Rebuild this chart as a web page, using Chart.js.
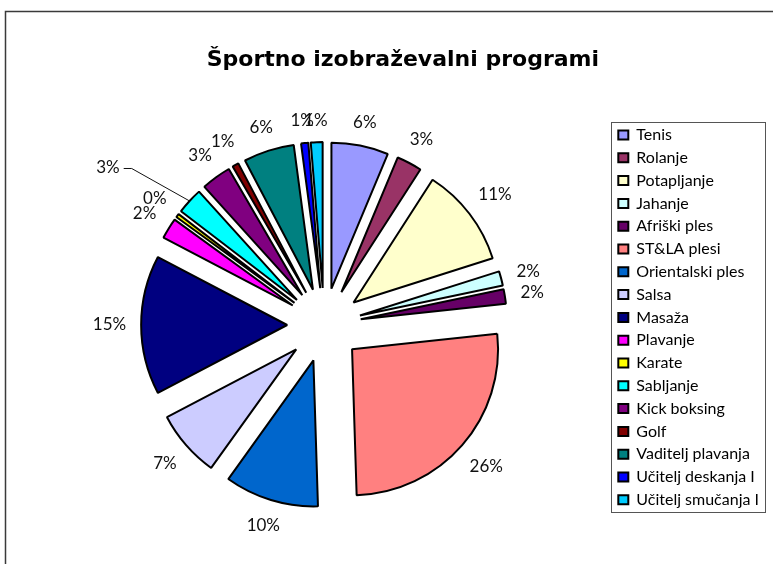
<!DOCTYPE html>
<html>
<head>
<meta charset="utf-8">
<script src="https://cdn.jsdelivr.net/npm/chart.js@4.4.1/dist/chart.umd.min.js"></script>
<style>
html,body{margin:0;padding:0;background:#fff;}
#wrap{position:relative;width:773px;height:564px;}
</style>
</head>
<body>
<div id="wrap"><canvas id="c" width="773" height="564"></canvas></div>
<script>
// ---- data ----
const titleText = 'Športno izobraževalni programi';
const categories = ['Tenis','Rolanje','Potapljanje','Jahanje','Afriški ples','ST&LA plesi','Orientalski ples','Salsa','Masaža','Plavanje','Karate','Sabljanje','Kick boksing','Golf','Vaditelj plavanja','Učitelj deskanja I','Učitelj smučanja I'];
const values = [6.3, 2.8, 11.0, 1.6, 1.6, 26.2, 10.4, 7.4, 15.4, 2.3, 0.4, 2.9, 3.3, 0.7, 5.6, 0.8, 1.3];
const colors = ['#9999FF','#993366','#FFFFCC','#CCFFFF','#660066','#FF8080','#0066CC','#CCCCFF','#000080','#FF00FF','#FFFF00','#00FFFF','#800080','#800000','#008080','#0000FF','#00CCFF'];

// ---- styling ----
const RADIUS = 146;     // pie radius
const EXPLODE = 37;     // explode distance of every slice
const LABEL_GAP = 15;   // gap between exploded rim and label
// manual label displacement (the label dragged away in the original, with leader line)
const labelNudge = { 'Sabljanje': [-61, -14] };

const total = values.reduce((a, b) => a + b, 0);

const explodePlugin = {
  id: 'explode',
  afterDatasetUpdate(chart, args) {
    const ca = chart.chartArea;
    const cx = (ca.left + ca.right) / 2, cy = (ca.top + ca.bottom) / 2;
    args.meta.data.forEach(el => {
      const mid = (el.startAngle + el.endAngle) / 2;
      el.x = cx + Math.cos(mid) * EXPLODE;
      el.y = cy + Math.sin(mid) * EXPLODE;
    });
  }
};

const decorPlugin = {
  id: 'decor',
  afterDraw(chart) {
    const ctx = chart.ctx;
    const ca = chart.chartArea;
    const cx = (ca.left + ca.right) / 2, cy = (ca.top + ca.bottom) / 2;
    ctx.save();
    // outer frame
    ctx.strokeStyle = '#3a3a3a';
    ctx.lineWidth = 1.5;
    ctx.strokeRect(5.5, 11.5, 900, 700);
    // legend frame
    const hb = chart.legend.legendHitBoxes;
    if (hb && hb.length) {
      let right = 0;
      hb.forEach(h => { right = Math.max(right, h.left + h.width); });
      const first = hb[0], last = hb[hb.length - 1];
      const x0 = Math.round(first.left - 7) + 0.5;
      const y0 = Math.round(first.top - 5) + 0.5;
      const x1 = Math.round(right + 6) + 0.5;
      const y1 = Math.round(last.top + last.height + 4) + 0.5;
      ctx.strokeStyle = '#555';
      ctx.lineWidth = 1;
      ctx.strokeRect(x0, y0, x1 - x0, y1 - y0);
    }
    // percentage labels
    const meta = chart.getDatasetMeta(0);
    ctx.font = '17px Lato';
    ctx.textAlign = 'center';
    ctx.textBaseline = 'middle';
    ctx.fillStyle = '#111';
    ctx.strokeStyle = '#111';
    ctx.lineWidth = 1;
    const baseR = RADIUS + EXPLODE + LABEL_GAP;
    meta.data.forEach((el, i) => {
      const mid = (el.startAngle + el.endAngle) / 2;
      const dx = Math.cos(mid), dy = Math.sin(mid);
      const txt = Math.round(values[i] / total * 100) + '%';
      const w = ctx.measureText(txt).width, h = 13;
      const d = baseR + (w / 2) * Math.abs(dx) + (h / 2) * Math.abs(dy);
      let x = cx + dx * d, y = cy + dy * d;
      const n = labelNudge[categories[i]];
      if (n) {
        x += n[0]; y += n[1];
        const rim = RADIUS + EXPLODE;
        ctx.beginPath();
        ctx.moveTo(x + w / 2 + 4, y + 0.5);
        ctx.lineTo(x + w / 2 + 12, y + 0.5);
        ctx.lineTo(cx + dx * rim, cy + dy * rim);
        ctx.stroke();
      }
      ctx.fillText(txt, x, y);
    });
    ctx.restore();
  }
};

new Chart(document.getElementById('c'), {
  type: 'pie',
  data: {
    labels: categories,
    datasets: [{
      data: values,
      backgroundColor: colors,
      borderColor: '#000',
      borderWidth: 2,
      radius: RADIUS,
      offset: 0,
      hoverOffset: 0
    }]
  },
  options: {
    responsive: false,
    devicePixelRatio: 1,
    animation: false,
    events: [],
    layout: { padding: { top: 40, left: 36.8, right: 4, bottom: 0 } },
    plugins: {
      title: {
        display: true,
        text: titleText,
        color: '#000',
        font: { family: 'DejaVu Sans', size: 22, weight: 'bold' },
        padding: { top: 6.8, bottom: 12.8 }
      },
      legend: {
        position: 'right',
        title: { display: true, text: '', font: { family: 'Lato', size: 14 }, padding: { top: 7, bottom: 7 } },
        labels: {
          color: '#000',
          font: { family: 'Lato', size: 16 },
          boxWidth: 10,
          boxHeight: 9,
          padding: 6.8
        }
      },
      tooltip: { enabled: false }
    }
  },
  plugins: [explodePlugin, decorPlugin]
});
</script>
</body>
</html>
